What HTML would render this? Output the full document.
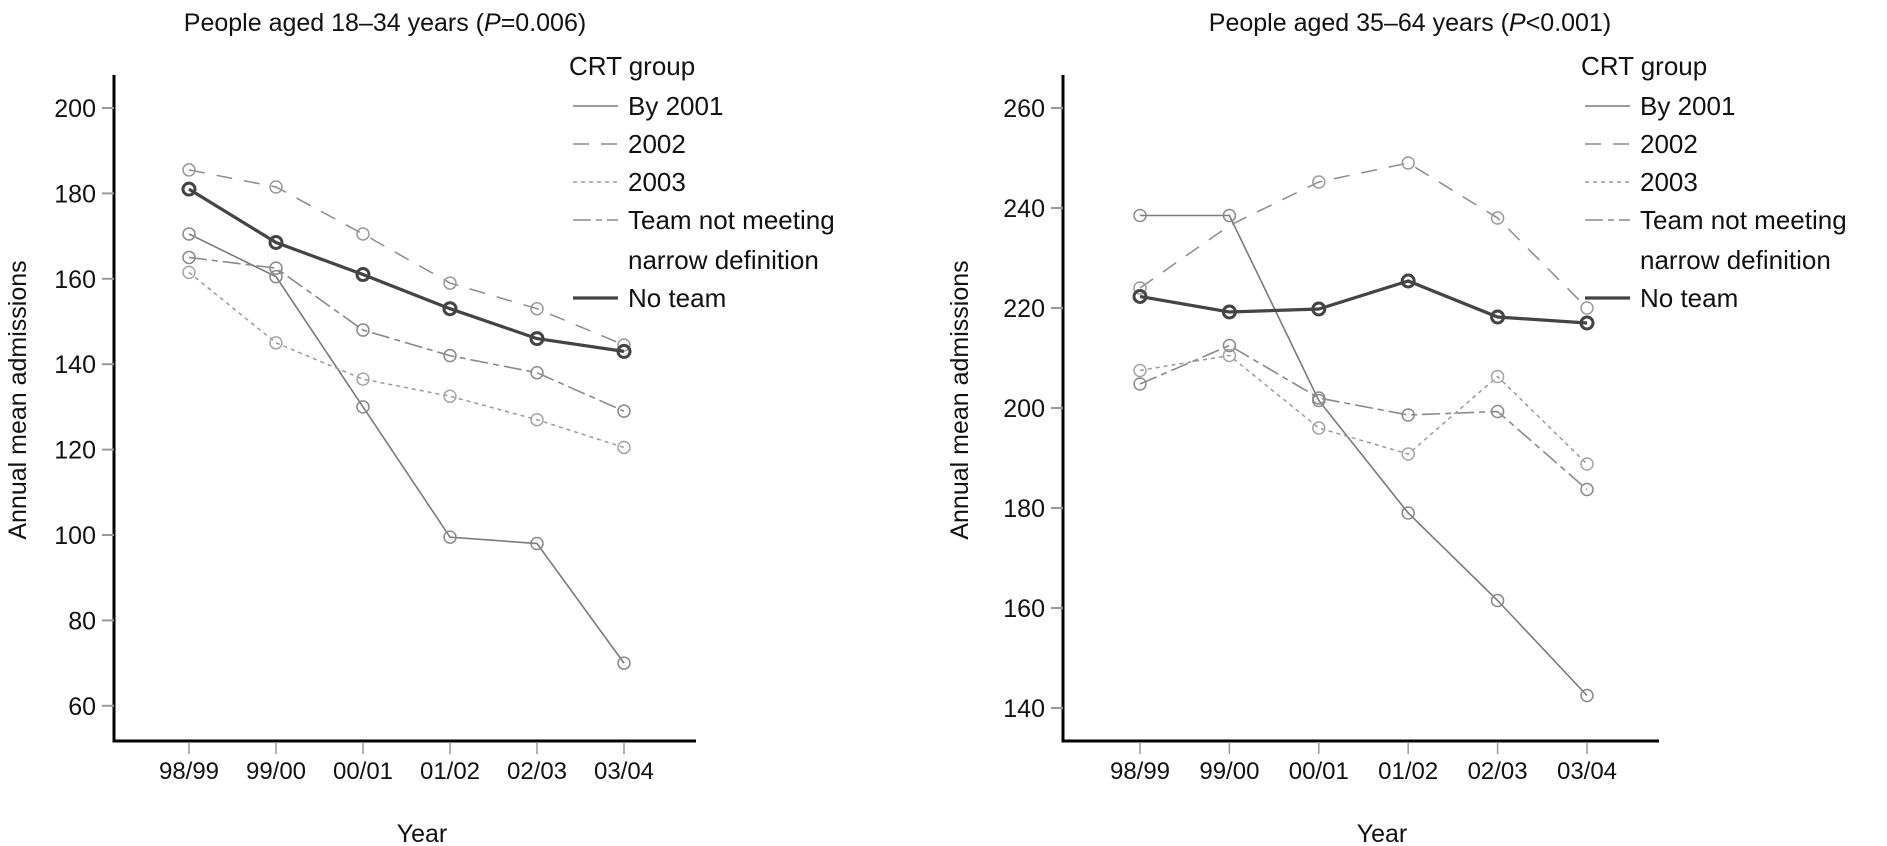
<!DOCTYPE html>
<html><head><meta charset="utf-8"><style>
html,body{margin:0;padding:0;background:#fff;}
svg{display:block;font-family:"Liberation Sans",sans-serif;}
</style></head><body>
<svg id="chart" width="1887" height="846" viewBox="0 0 1887 846" xmlns="http://www.w3.org/2000/svg"></svg>
<script>
const years = ["98/99","99/00","00/01","01/02","02/03","03/04"];
const seriesNames = ["By 2001","2002","2003","Team not meeting narrow definition","No team"];
// Left panel: people aged 18-34
const leftBy2001 = [170.5,160.5,130,99.5,98,70];
const left2002 = [185.5,181.5,170.5,159,153,144.5];
const left2003 = [161.5,145,136.5,132.5,127,120.5];
const leftTeamNot = [165,162.5,148,142,138,129];
const leftNoTeam = [181,168.5,161,153,146,143];
const leftTicks = [60,80,100,120,140,160,180,200];
// Right panel: people aged 35-64
const rightBy2001 = [238.5,238.5,201.5,179,161.5,142.5];
const right2002 = [224,236.5,245.2,249,238,220];
const right2003 = [207.5,210.5,196,190.8,206.3,188.8];
const rightTeamNot = [204.8,212.5,202,198.6,199.3,183.7];
const rightNoTeam = [222.3,219.2,219.8,225.4,218.2,217];
const rightTicks = [140,160,180,200,220,240,260];

const NS="http://www.w3.org/2000/svg";
const svg=document.getElementById('chart');
function mk(tag,attrs,parent){const e=document.createElementNS(NS,tag);for(const k in attrs)e.setAttribute(k,attrs[k]);(parent||svg).appendChild(e);return e;}

const styles=[
 {stroke:"#7a7a7a",w:1.6,dash:"",mark:"#8a8a8a",mw:1.5},
 {stroke:"#8c8c8c",w:1.5,dash:"16 12",mark:"#9a9a9a",mw:1.5},
 {stroke:"#9a9a9a",w:1.5,dash:"4 4",mark:"#a5a5a5",mw:1.5},
 {stroke:"#8a8a8a",w:1.6,dash:"18 5 6 5",mark:"#8a8a8a",mw:1.5},
 {stroke:"#444",w:3.2,dash:"",mark:"#444",mw:3}
];
const seriesKeys=["by-2001","2002","2003","team-not-meeting","no-team"];

function panel(cfg){
  const g=mk('g',{});
  
  
  const y=v=>cfg.y0+(cfg.vTop-v)*cfg.ppu;
  const x=i=>cfg.x0+i*cfg.dx;
  const t=mk('text',{x:cfg.titleX,y:31,'font-size':25,'text-anchor':'middle',fill:'#111'},g);
  
  
  t.innerHTML=cfg.title;
  const ya=mk('line',{x1:cfg.axX,y1:75,x2:cfg.axX,y2:741,stroke:'#000','stroke-width':3},g);
  
  
  const xa=mk('line',{x1:cfg.axX-1.5,y1:741,x2:cfg.axEnd,y2:741,stroke:'#000','stroke-width':3},g);
  
  
  cfg.ticks.forEach(v=>{
    const tk=mk('line',{x1:cfg.axX-12,y1:y(v),x2:cfg.axX,y2:y(v),stroke:'#999','stroke-width':2},g);
    
    
    const tl=mk('text',{x:cfg.axX-18,y:y(v)+9,'font-size':25,'text-anchor':'end',fill:'#111'},g);
    
    
    tl.textContent=v;
  });
  years.forEach((yr,i)=>{
    const tk=mk('line',{x1:x(i),y1:742,x2:x(i),y2:754,stroke:'#999','stroke-width':1.5},g);
    
    
    const tl=mk('text',{x:x(i),y:779,'font-size':24,'text-anchor':'middle',fill:'#111'},g);
    
    
    tl.textContent=yr;
  });
  const yt=mk('text',{x:0,y:0,'font-size':25,'text-anchor':'middle',fill:'#111',transform:`translate(${cfg.yTitleX},400) rotate(-90)`},g);
  
  
  yt.textContent='Annual mean admissions';
  const xt=mk('text',{x:cfg.xTitleX,y:842,'font-size':25,'text-anchor':'middle',fill:'#111'},g);
  
  
  xt.textContent='Year';
  cfg.series.forEach((vals,s)=>{
    const st=styles[s];
    const sg=mk('g',{},g);
    
    
    const pts=vals.map((v,i)=>x(i)+','+y(v)).join(' ');
    const pl=mk('polyline',{points:pts,fill:'none',stroke:st.stroke,'stroke-width':st.w,'stroke-dasharray':st.dash},sg);
    
    
    vals.forEach((v,i)=>{
      if(cfg.skip && cfg.skip[s]===i) return;
      const c=mk('circle',{cx:x(i),cy:y(v),r:6,fill:'none',stroke:st.mark,'stroke-width':st.mw},sg);
      
      
    });
  });
  const lg=mk('g',{},g);
  
  
  const lt=mk('text',{x:cfg.legX-4,y:75,'font-size':26,fill:'#111'},lg);
  
  
  lt.textContent='CRT group';
  const rows=[106,144,182,220,298];
  seriesNames.forEach((n,s)=>{
    const st=styles[s];
    const ll=mk('line',{x1:cfg.legX,y1:rows[s],x2:cfg.legX+45,y2:rows[s],stroke:st.stroke,'stroke-width':st.w,'stroke-dasharray':st.dash},lg);
    
    
    const tx=mk('text',{x:cfg.legX+55,y:rows[s]+9,'font-size':26,fill:'#111'},lg);
    
    
    if(s===3){
      tx.textContent='Team not meeting';
      const t2=mk('text',{x:cfg.legX+55,y:rows[s]+49,'font-size':26,fill:'#111'},lg);
      
      
      t2.textContent='narrow definition';
    } else tx.textContent=n;
  });
}

panel({name:'panel-18-34',title:'People aged 18\u201334 years (<tspan font-style="italic">P</tspan>=0.006)',titleX:385,
  axX:114,axEnd:696,x0:189,dx:87,y0:108,vTop:200,ppu:4.27,ticks:leftTicks,yTitleX:26,xTitleX:422,legX:573,
  series:[leftBy2001,left2002,left2003,leftTeamNot,leftNoTeam]});
panel({name:'panel-35-64',title:'People aged 35\u201364 years (<tspan font-style="italic">P</tspan>&lt;0.001)',titleX:1410,
  axX:1063,axEnd:1659,x0:1140,dx:89.4,y0:108,vTop:260,ppu:5,ticks:rightTicks,yTitleX:968,xTitleX:1382,legX:1585,
  skip:{1:1},
  series:[rightBy2001,right2002,right2003,rightTeamNot,rightNoTeam]});
</script>
</body></html>
